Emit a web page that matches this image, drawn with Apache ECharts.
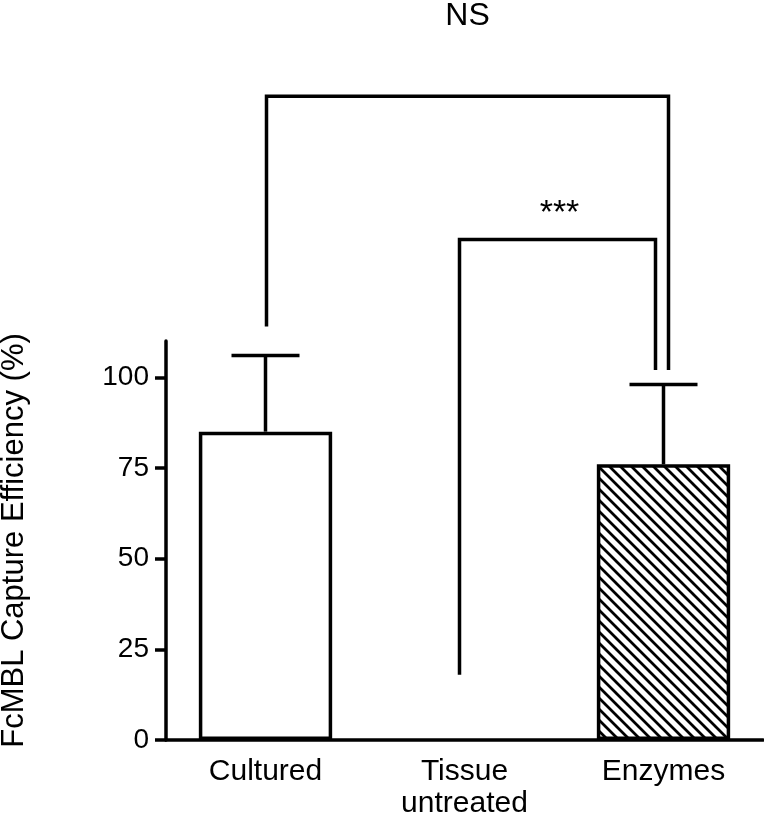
<!DOCTYPE html>
<html>
<head>
<meta charset="utf-8">
<script src="https://cdn.jsdelivr.net/npm/echarts@6/dist/echarts.min.js"></script>
<style>
  html, body { margin: 0; padding: 0; background: #fff; }
  #chart { width: 764px; height: 817px; }
</style>
</head>
<body>
<div id="chart"></div>
<script>
// data
var categories = ['Cultured', 'Tissue\nuntreated', 'Enzymes'];
var means = [85, 0, 76];
var errUp = [21, null, 22];
var yTicks = [0, 25, 50, 75, 100];

// significance brackets: [fromIndex, toIndex, yAtFrom, yTop, yAtTo, label]
var brackets = [
    [0, 2, 114, 177.5, 102, 'NS'],
    [1, 2, 18, 138, 102, '***']
];

// pixel nudges for the bracket legs and label lift (style only)
var bracketNudge = [[1, 5], [-5, -8]];
var bracketLabelLift = [80, 26];

var FONT = '"Liberation Sans", Arial, Helvetica, sans-serif';
var LW = 3.5;

// hatch pattern for the Enzymes bar
function hatch() {
    var s = 11;
    var c = document.createElement('canvas');
    c.width = s; c.height = s;
    var ctx = c.getContext('2d');
    ctx.fillStyle = '#fff';
    ctx.fillRect(0, 0, s, s);
    ctx.strokeStyle = '#000';
    ctx.lineWidth = 2.8;
    ctx.beginPath();
    ctx.moveTo(-2, -2); ctx.lineTo(s + 2, s + 2);
    ctx.moveTo(-2 - s, -2); ctx.lineTo(2, s + 2);
    ctx.moveTo(s - 2, -2); ctx.lineTo(2 * s + 2, s + 2);
    ctx.stroke();
    return c;
}

var barData = means.map(function (v, i) {
    var item = { value: v, itemStyle: { color: '#fff', borderColor: '#000', borderWidth: v > 0 ? LW : 0 } };
    if (i === 2) {
        item.itemStyle.color = { image: hatch(), repeat: 'repeat' };
    }
    return item;
});

var errData = [];
means.forEach(function (v, i) {
    if (errUp[i] != null) errData.push([i, v, v + errUp[i]]);
});

var myChart = echarts.init(document.getElementById('chart'));
myChart.setOption({
    animation: false,
    backgroundColor: '#fff',
    grid: { left: 166, right: 1, top: 341, bottom: 77, containLabel: false, outerBoundsMode: 'none' },
    xAxis: {
        type: 'category',
        data: categories,
        axisLine: { lineStyle: { color: '#000', width: LW } },
        axisTick: { alignWithLabel: true, length: 9, lineStyle: { color: '#000', width: LW } },
        axisLabel: { color: '#000', fontSize: 30, fontFamily: FONT, lineHeight: 32, margin: 16 },
        splitLine: { show: false }
    },
    yAxis: {
        type: 'value',
        min: 0,
        max: 110,
        name: 'FcMBL Capture Efficiency (%)',
        nameLocation: 'middle',
        nameGap: 136,
        nameTextStyle: { color: '#000', fontSize: 31, fontFamily: FONT },
        axisLine: { show: true, lineStyle: { color: '#000', width: LW } },
        axisTick: { show: true, length: 11, customValues: yTicks, lineStyle: { color: '#000', width: LW } },
        axisLabel: { color: '#000', fontSize: 28, fontFamily: FONT, margin: 17, customValues: yTicks },
        splitLine: { show: false }
    },
    series: [
        {
            name: 'mean',
            type: 'bar',
            barWidth: '67%',
            data: barData
        },
        {
            name: 'sem',
            type: 'custom',
            data: errData,
            z: 3,
            renderItem: function (params, api) {
                var base = api.coord([api.value(0), api.value(1)]);
                var top = api.coord([api.value(0), api.value(2)]);
                var half = 34;
                var st = { stroke: '#000', lineWidth: LW };
                return {
                    type: 'group',
                    children: [
                        { type: 'line', shape: { x1: base[0], y1: base[1], x2: top[0], y2: top[1] }, style: st },
                        { type: 'line', shape: { x1: top[0] - half, y1: top[1], x2: top[0] + half, y2: top[1] }, style: st }
                    ]
                };
            }
        },
        {
            name: 'brackets',
            type: 'custom',
            clip: false,
            data: brackets,
            z: 4,
            renderItem: function (params, api) {
                var i = params.dataIndex;
                var b = brackets[i];
                var nudge = bracketNudge[i];
                var p1 = api.coord([b[0], b[2]]);
                var t1 = api.coord([b[0], b[3]]);
                var p2 = api.coord([b[1], b[4]]);
                var x1 = p1[0] + nudge[0];
                var x2 = p2[0] + nudge[1];
                return {
                    type: 'group',
                    children: [
                        {
                            type: 'polyline',
                            shape: { points: [[x1, p1[1]], [x1, t1[1]], [x2, t1[1]], [x2, p2[1]]] },
                            style: { stroke: '#000', lineWidth: LW, fill: null, lineJoin: 'miter' }
                        },
                        {
                            type: 'text',
                            style: {
                                text: b[5],
                                x: (x1 + x2) / 2 + (i === 1 ? 2 : 0),
                                y: t1[1] - bracketLabelLift[i],
                                align: 'center',
                                verticalAlign: 'middle',
                                fill: '#000',
                                font: (i === 0 ? '32px ' : '34px ') + FONT
                            }
                        }
                    ]
                };
            }
        }
    ]
});
</script>
</body>
</html>
